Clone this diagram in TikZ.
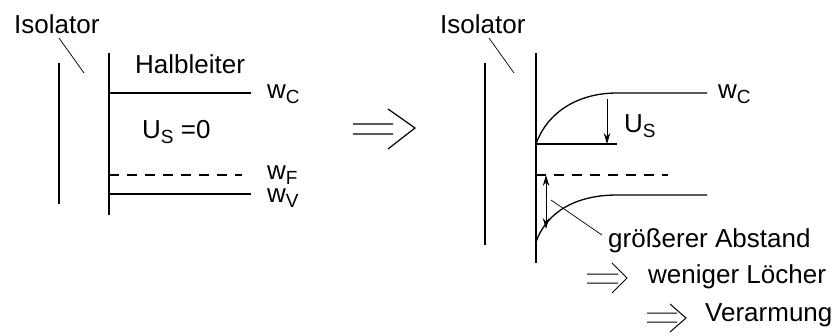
\documentclass[tikz,border=0pt]{standalone}
\usepackage{fontspec}
\setmainfont{Liberation Sans}
\usetikzlibrary{arrows.meta}
\newcommand{\bandidx}[1]{\raisebox{-0.4ex}{\fontsize{19}{20}\selectfont #1}}
\begin{document}
\begin{tikzpicture}[
    x=1pt, y=-1pt,
    lbl/.style={font=\fontsize{26}{30}\selectfont, inner sep=0pt, anchor=base west},
    wall/.style={line width=1.3pt},
    band/.style={line width=1.3pt},
    fermi/.style={line width=1.3pt, dash pattern=on 10pt off 8pt},
    lead/.style={line width=0.7pt},
    varr/.style={line width=1pt, -{Stealth[length=11pt,width=6.5pt]}},
    impl/.style={line width=1pt},
  ]
    \useasboundingbox (0,0) rectangle (840,335);

    % --- U_S = 0 ---
    \node[lbl] (isoL) at (14,33) {Isolator};
    \coordinate (isoLend) at (84,73);
    \draw[lead] (59,38) -- (isoLend);
    \draw[wall] (59,63) -- (59,204);
    \draw[wall] (109,53) -- (109,215);
    \node[lbl] (halb) at (135,73) {Halbleiter};
    \node[lbl] (wcL) at (267,98) {w\bandidx{C}};
    \node[lbl] (us0) at (142,138) {U\bandidx{S} =0};
    \node[lbl] (wfL) at (267,179) {w\bandidx{F}};
    \node[lbl] (wvL) at (267,202) {w\bandidx{V}};
    \draw[band]  (109,93)  -- (251,93);
    \draw[fermi] (109,175) -- (242,175);
    \draw[band]  (109,194) -- (251,194);

    % big implication arrow
    \draw[impl, line width=1.2pt] (353,124) -- (393,124) (353,134) -- (393,134)
      (388,109) -- (415,128) -- (388,149);

    % --- Verarmung ---
    \node[lbl] (isoR) at (440,33) {Isolator};
    \coordinate (isoRend) at (514,73);
    \draw[lead] (489,38) -- (isoRend);
    \draw[wall] (485,63) -- (485,245);
    \draw[wall] (536,53) -- (536,263);
    % conduction band, bent
    \draw[band] (536,144) .. controls (547,113) and (577,93) .. (617,93) -- (707,93);
    \draw[band] (536,144) -- (617,144);
    \node[lbl] (wcR) at (718,98) {w\bandidx{C}};
    \coordinate (usTop) at (607,99);
    \coordinate (usBot) at (607,144);
    \draw[varr] (usTop) -- (usBot);
    \node[lbl] (usR) at (624,132) {U\bandidx{S}};
    % Fermi level
    \draw[fermi] (536,175) -- (668,175);
    % valence band, bent
    \draw[band] (536,242) .. controls (547,211) and (577,195) .. (617,195) -- (707,195);
    \coordinate (gapTop) at (546,175);
    \coordinate (gapBot) at (546,229);
    \draw[varr, {Stealth[length=11pt,width=6.5pt]}-{Stealth[length=11pt,width=6.5pt]}] (gapTop) -- (gapBot);
    % Labels
    \node[lbl] (abst) at (608,247) {größerer Abstand};
    \coordinate (abstEnd) at (551,200);
    \draw[lead] (602,235) -- (abstEnd);
    \draw[impl] (587,274) -- (618,274) (587,283) -- (618,283)
      (612,263) -- (627,278) -- (612,293);
    \node[lbl] (loech) at (648,283) {weniger Löcher};
    \draw[impl] (647,313) -- (677,313) (647,322) -- (677,322)
      (670,304) -- (686,318) -- (670,332);
    \node[lbl] (verarm) at (705,321) {Verarmung};
  \end{tikzpicture}
\end{document}
